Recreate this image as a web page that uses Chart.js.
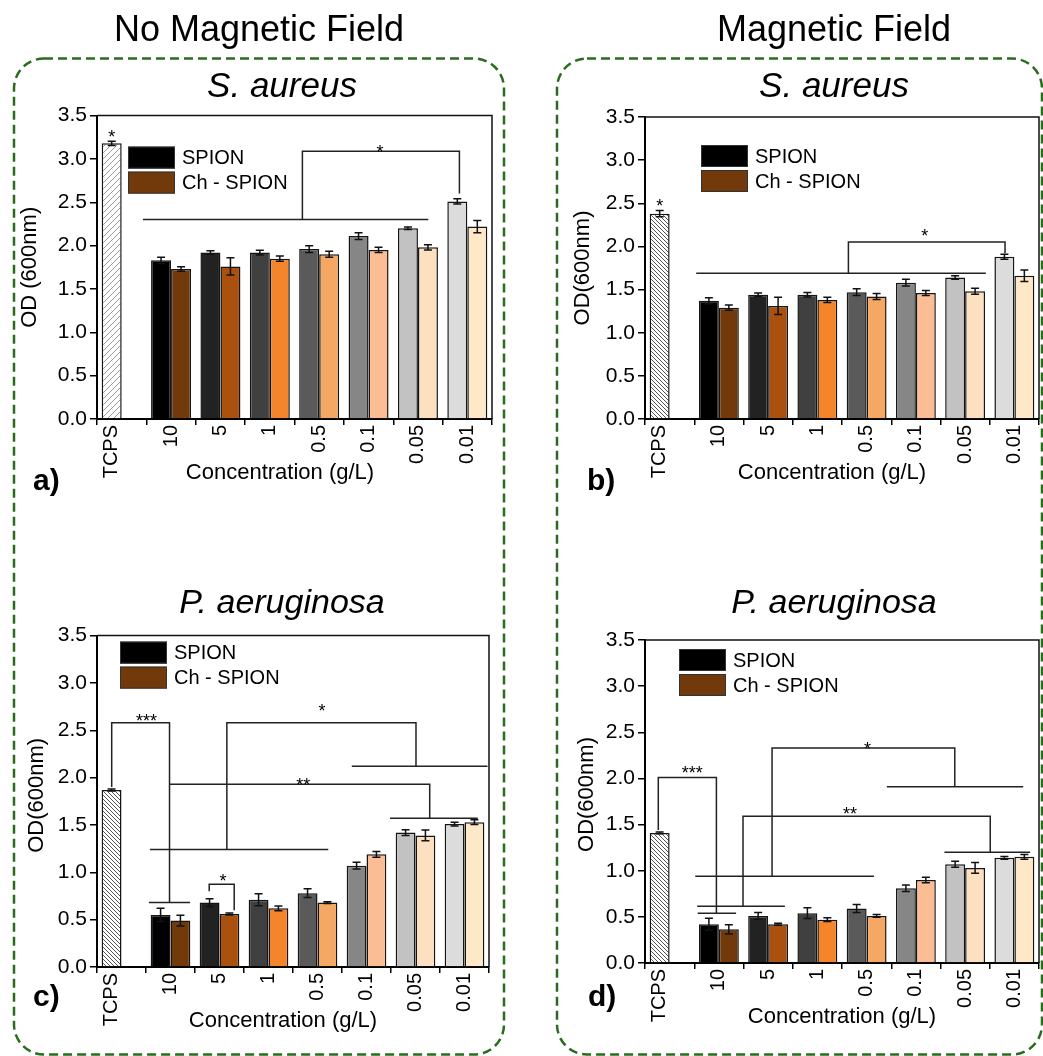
<!DOCTYPE html>
<html>
<head>
<meta charset="utf-8">
<script src="https://cdn.jsdelivr.net/npm/chart.js@4/dist/chart.umd.min.js"></script>
<style>
  *{margin:0;padding:0;box-sizing:border-box}
  body{width:1043px;height:1056px;position:relative;overflow:hidden;background:#fff;
       font-family:'Liberation Sans',Arial,sans-serif;color:#000}
  canvas{position:absolute}
  .t{position:absolute;width:600px;text-align:center;white-space:nowrap}
  .hdr{font-size:36px;line-height:36px}
  .sp{font-size:35px;line-height:35px;font-style:italic}
  .sp2{font-size:34px;line-height:34px;font-style:italic}
  .lt{position:absolute;font-size:30px;line-height:30px;font-weight:bold}
</style>
</head>
<body>
<canvas id="bg" width="1043" height="1056" style="left:0;top:0"></canvas>

<div class="t hdr" style="left:-41px;top:11px">No Magnetic Field</div>
<div class="t hdr" style="left:534px;top:11px">Magnetic Field</div>
<div class="t sp" style="left:-18px;top:67px">S. aureus</div>
<div class="t sp" style="left:534px;top:67px">S. aureus</div>
<div class="t sp2" style="left:-18px;top:584px">P. aeruginosa</div>
<div class="t sp2" style="left:534px;top:584px">P. aeruginosa</div>

<canvas id="pa" width="500" height="400" style="left:0;top:100px"></canvas>
<canvas id="pb" width="523" height="400" style="left:520px;top:100px"></canvas>
<canvas id="pc" width="500" height="420" style="left:0;top:620px"></canvas>
<canvas id="pd" width="523" height="420" style="left:520px;top:620px"></canvas>

<div class="lt" style="left:33px;top:465px">a)</div>
<div class="lt" style="left:587px;top:465px">b)</div>
<div class="lt" style="left:33px;top:981px">c)</div>
<div class="lt" style="left:588px;top:981px">d)</div>

<script>
// ─── Data ──────────────────────────────────────────────────────
const categories = ["TCPS", "10", "5", "1", "0.5", "0.1", "0.05", "0.01"];

// a) S. aureus, no magnetic field
const aTcps = 3.18, aTcpsErr = 0.025;
const aSpion    = [1.83, 1.92, 1.92, 1.96, 2.11, 2.20, 2.51];
const aSpionErr = [0.036, 0.02, 0.027, 0.038, 0.04, 0.015, 0.03];
const aCh       = [1.73, 1.76, 1.85, 1.90, 1.95, 1.98, 2.22];
const aChErr    = [0.025, 0.10, 0.03, 0.035, 0.03, 0.03, 0.07];

// b) S. aureus, magnetic field
const bTcps = 2.38, bTcpsErr = 0.035;
const bSpion    = [1.37, 1.44, 1.44, 1.47, 1.58, 1.64, 1.88];
const bSpionErr = [0.035, 0.02, 0.025, 0.04, 0.04, 0.02, 0.03];
const bCh       = [1.29, 1.31, 1.38, 1.42, 1.46, 1.48, 1.66];
const bChErr    = [0.03, 0.10, 0.03, 0.035, 0.03, 0.035, 0.067];

// c) P. aeruginosa, no magnetic field
const cTcps = 1.87, cTcpsErr = 0.01;
const cSpion    = [0.55, 0.68, 0.71, 0.78, 1.07, 1.42, 1.51];
const cSpionErr = [0.07, 0.04, 0.063, 0.047, 0.035, 0.03, 0.02];
const cCh       = [0.49, 0.56, 0.62, 0.68, 1.19, 1.39, 1.53];
const cChErr    = [0.056, 0.01, 0.025, 0.01, 0.03, 0.056, 0.026];

// d) P. aeruginosa, magnetic field
const dTcps = 1.41, dTcpsErr = 0.01;
const dSpion    = [0.42, 0.51, 0.54, 0.59, 0.81, 1.07, 1.14];
const dSpionErr = [0.065, 0.036, 0.058, 0.043, 0.036, 0.033, 0.015];
const dCh       = [0.365, 0.42, 0.47, 0.51, 0.90, 1.03, 1.15];
const dChErr    = [0.05, 0.01, 0.02, 0.015, 0.03, 0.058, 0.025];

const yMax = 3.5, yStep = 0.5;

// ─── Styles ────────────────────────────────────────────────────
const FONT = "'Liberation Sans', Arial, sans-serif";
const SPION_COLORS = ["#000000", "#222222", "#404040", "#5a5a5a", "#868686", "#c2c2c2", "#dcdcdc"];
const CH_COLORS    = ["#72390b", "#ab510f", "#f5852b", "#f5a764", "#fbbd94", "#fde0c0", "#fee8c8"];
Chart.defaults.font.family = FONT;

function hatch(dir, color, s) {
  const t = document.createElement("canvas");
  t.width = t.height = s;
  const g = t.getContext("2d");
  g.fillStyle = "#fff"; g.fillRect(0, 0, s, s);
  g.strokeStyle = color; g.lineWidth = 1;
  g.beginPath();
  for (const o of [-s, 0, s]) {
    if (dir === "/") { g.moveTo(o, s); g.lineTo(o + s, 0); }
    else { g.moveTo(o, 0); g.lineTo(o + s, s); }
  }
  g.stroke();
  return g.createPattern(t, "repeat");
}

// ─── Background: dashed rounded frames ─────────────────────────
(function drawFrames() {
  const g = document.getElementById("bg").getContext("2d");
  function rr(x, y, w, h, r) {
    g.beginPath();
    g.moveTo(x + r, y);
    g.lineTo(x + w - r, y); g.arcTo(x + w, y, x + w, y + r, r);
    g.lineTo(x + w, y + h - r); g.arcTo(x + w, y + h, x + w - r, y + h, r);
    g.lineTo(x + r, y + h); g.arcTo(x, y + h, x, y + h - r, r);
    g.lineTo(x, y + r); g.arcTo(x, y, x + r, y, r);
    g.closePath();
    g.stroke();
  }
  g.strokeStyle = "#2a6b1e"; g.lineWidth = 2.5; g.setLineDash([9, 5]);
  rr(14, 58.5, 490, 996, 30);
  rr(557, 58.5, 485, 996, 30);
})();

// ─── Panel builder ─────────────────────────────────────────────
function drawPanel(id, p) {
  const spionData = [p.tcps, ...p.spion];
  const chData = [null, ...p.ch];
  const errs = [[p.tcpsErr, ...p.spionErr], [null, ...p.chErr]];
  const values = [spionData, chData];

  const overlay = {
    id: "overlay",
    afterDatasetsDraw(chart) {
      const { ctx, chartArea: a, scales: { x, y } } = chart;
      const x0 = x.getPixelForValue(0);
      const step = x.getPixelForValue(1) - x0;
      const px = (i) => x0 + i * step;
      ctx.save();

      // top and right frame
      ctx.strokeStyle = "#111"; ctx.lineWidth = 1.5;
      ctx.beginPath();
      ctx.moveTo(a.left, a.top); ctx.lineTo(a.right, a.top); ctx.lineTo(a.right, a.bottom);
      ctx.stroke();

      // error bars
      ctx.strokeStyle = "#111"; ctx.lineWidth = 1.5;
      for (let d = 0; d < 2; d++) {
        chart.getDatasetMeta(d).data.forEach((bar, i) => {
          const v = values[d][i], e = errs[d][i];
          if (v == null) return;
          const yt = y.getPixelForValue(v + e), yb = y.getPixelForValue(v - e);
          ctx.beginPath();
          ctx.moveTo(bar.x, yt); ctx.lineTo(bar.x, yb);
          ctx.moveTo(bar.x - 4, yt); ctx.lineTo(bar.x + 4, yt);
          ctx.moveTo(bar.x - 4, yb); ctx.lineTo(bar.x + 4, yb);
          ctx.stroke();
        });
      }

      // significance brackets
      ctx.strokeStyle = "#222"; ctx.lineWidth = 1.5;
      p.brackets.forEach((line) => {
        ctx.beginPath();
        line.forEach(([i, v], k) => {
          const X = px(i), Y = y.getPixelForValue(v);
          if (k) ctx.lineTo(X, Y); else ctx.moveTo(X, Y);
        });
        ctx.stroke();
      });

      // stars
      ctx.fillStyle = "#000";
      ctx.font = `18px ${FONT}`;
      ctx.textAlign = "center"; ctx.textBaseline = "alphabetic";
      p.stars.forEach((s) => ctx.fillText(s.text, px(s.i), y.getPixelForValue(s.v) + 0.58 * 18));

      // legend
      const lx = a.left + p.legend[0], ly = a.top + p.legend[1];
      [["SPION", "#000000"], ["Ch - SPION", CH_COLORS[0]]].forEach(([txt, col], k) => {
        const top = ly + k * 25;
        ctx.fillStyle = col; ctx.fillRect(lx, top, 47, 22);
        ctx.strokeStyle = "#333"; ctx.lineWidth = 1; ctx.strokeRect(lx + 0.5, top + 0.5, 46, 21);
        ctx.fillStyle = "#000"; ctx.font = `20px ${FONT}`;
        ctx.textAlign = "left"; ctx.textBaseline = "middle";
        ctx.fillText(txt, lx + 54, top + 12);
      });

      // x tick labels (rotated)
      const bar0 = chart.getDatasetMeta(0).data[0];
      ctx.font = `20px ${FONT}`;
      categories.forEach((lab, i) => {
        const cx = i === 0 ? bar0.x : x.getPixelForValue(i);
        ctx.save();
        ctx.translate(cx, a.bottom + 6);
        ctx.rotate(-Math.PI / 2);
        ctx.textAlign = "right"; ctx.textBaseline = "middle";
        ctx.fillText(lab, 0, 0);
        ctx.restore();
      });

      // axis titles
      ctx.font = `22px ${FONT}`;
      ctx.textAlign = "center"; ctx.textBaseline = "middle";
      ctx.fillText("Concentration (g/L)", a.left + p.xTitleDx, a.bottom + 54);
      ctx.save();
      ctx.translate(a.left - p.yTitleDx, (a.top + a.bottom) / 2 + p.yTitleDy);
      ctx.rotate(-Math.PI / 2);
      ctx.fillText(p.yTitle, 0, 0);
      ctx.restore();

      ctx.restore();
    },
  };

  new Chart(document.getElementById(id), {
    type: "bar",
    data: {
      labels: categories,
      datasets: [
        {
          label: "SPION",
          data: spionData,
          backgroundColor: [p.pattern, ...SPION_COLORS],
          borderColor: "#151515", borderWidth: 1.5,
          categoryPercentage: 0.81, barPercentage: 1,
        },
        {
          label: "Ch - SPION",
          data: chData,
          backgroundColor: ["#fff", ...CH_COLORS],
          borderColor: "#151515", borderWidth: 1.5,
          categoryPercentage: 0.81, barPercentage: 1,
        },
      ],
    },
    options: {
      responsive: false,
      animation: false,
      events: [],
      layout: { padding: p.padding },
      plugins: { legend: { display: false }, tooltip: { enabled: false } },
      scales: {
        x: {
          offset: true,
          grid: { offset: true, drawOnChartArea: false, tickLength: 6, color: "#000", lineWidth: 1.5 },
          border: { color: "#000", width: 2 },
          ticks: { display: false },
          afterFit: (s) => { s.height = p.xHeight; },
        },
        y: {
          min: 0, max: yMax,
          ticks: { stepSize: yStep, color: "#000", padding: 3, font: { size: 21 },
                   callback: (v) => v.toFixed(1) },
          grid: { drawOnChartArea: false, tickLength: 7, color: "#000", lineWidth: 1.5 },
          border: { color: "#000", width: 2 },
          afterFit: (s) => { s.width = 97; },
        },
      },
    },
    plugins: [overlay],
  });
}

// ─── Panels ────────────────────────────────────────────────────
drawPanel("pa", {
  tcps: aTcps, tcpsErr: aTcpsErr, spion: aSpion, spionErr: aSpionErr, ch: aCh, chErr: aChErr,
  pattern: hatch("/", "#9a9a9a", 6),
  padding: { top: 13, left: 0, right: 8, bottom: 0 }, xHeight: 81,
  legend: [31, 31], xTitleDx: 183, yTitleDx: 67, yTitleDy: 0, yTitle: "OD (600nm)",
  brackets: [
    [[0.43, 2.30], [6.21, 2.30]],
    [[3.66, 2.30], [3.66, 3.09], [6.84, 3.09], [6.84, 2.60]],
  ],
  stars: [{ text: "*", i: -0.2, v: 3.31 }, { text: "*", i: 5.23, v: 3.13 }],
});

drawPanel("pb", {
  tcps: bTcps, tcpsErr: bTcpsErr, spion: bSpion, spionErr: bSpionErr, ch: bCh, chErr: bChErr,
  pattern: hatch("\\", "#555", 4),
  padding: { top: 17, left: 28, right: 4, bottom: 0 }, xHeight: 81,
  legend: [56, 28], xTitleDx: 187, yTitleDx: 62, yTitleDy: 0, yTitle: "OD(600nm)",
  brackets: [
    [[0.54, 1.69], [6.42, 1.69]],
    [[3.63, 1.69], [3.63, 2.05], [6.81, 2.05], [6.81, 1.92]],
  ],
  stars: [{ text: "*", i: -0.2, v: 2.52 }, { text: "*", i: 5.18, v: 2.17 }],
});

drawPanel("pc", {
  tcps: cTcps, tcpsErr: cTcpsErr, spion: cSpion, spionErr: cSpionErr, ch: cCh, chErr: cChErr,
  pattern: hatch("\\", "#555", 4),
  padding: { top: 14, left: 0, right: 11, bottom: 0 }, xHeight: 73,
  legend: [23, 6], xTitleDx: 186, yTitleDx: 60, yTitleDy: -6, yTitle: "OD(600nm)",
  brackets: [
    [[-0.2, 1.90], [-0.2, 2.58], [0.98, 2.58], [0.98, 0.68]],
    [[0.56, 0.68], [1.40, 0.68]],
    [[0.58, 1.24], [4.22, 1.24]],
    [[2.15, 1.24], [2.15, 2.58], [6.01, 2.58], [6.01, 2.12]],
    [[4.70, 2.12], [7.47, 2.12]],
    [[0.98, 1.93], [6.29, 1.93], [6.29, 1.57]],
    [[5.48, 1.57], [7.27, 1.57]],
    [[1.79, 0.80], [1.79, 0.875], [2.30, 0.875], [2.30, 0.60]],
  ],
  stars: [
    { text: "***", i: 0.51, v: 2.65 },
    { text: "*", i: 4.09, v: 2.755 },
    { text: "**", i: 3.71, v: 1.97 },
    { text: "*", i: 2.07, v: 0.955 },
  ],
});

drawPanel("pd", {
  tcps: dTcps, tcpsErr: dTcpsErr, spion: dSpion, spionErr: dSpionErr, ch: dCh, chErr: dChErr,
  pattern: hatch("\\", "#555", 4),
  padding: { top: 20, left: 28, right: 4, bottom: 0 }, xHeight: 77,
  legend: [34, 9], xTitleDx: 197, yTitleDx: 58, yTitleDy: -7, yTitle: "OD(600nm)",
  brackets: [
    [[-0.23, 1.44], [-0.23, 2.01], [0.95, 2.01], [0.95, 0.54]],
    [[0.57, 0.54], [1.35, 0.54]],
    [[0.56, 0.615], [2.34, 0.615]],
    [[1.49, 0.615], [1.49, 1.59], [6.51, 1.59], [6.51, 1.20]],
    [[5.58, 1.20], [7.32, 1.20]],
    [[0.52, 0.94], [4.15, 0.94]],
    [[2.08, 0.94], [2.08, 2.33], [5.79, 2.33], [5.79, 1.91]],
    [[4.41, 1.91], [7.18, 1.91]],
  ],
  stars: [
    { text: "***", i: 0.46, v: 2.11 },
    { text: "*", i: 4.02, v: 2.37 },
    { text: "**", i: 3.66, v: 1.66 },
  ],
});
</script>
</body>
</html>
